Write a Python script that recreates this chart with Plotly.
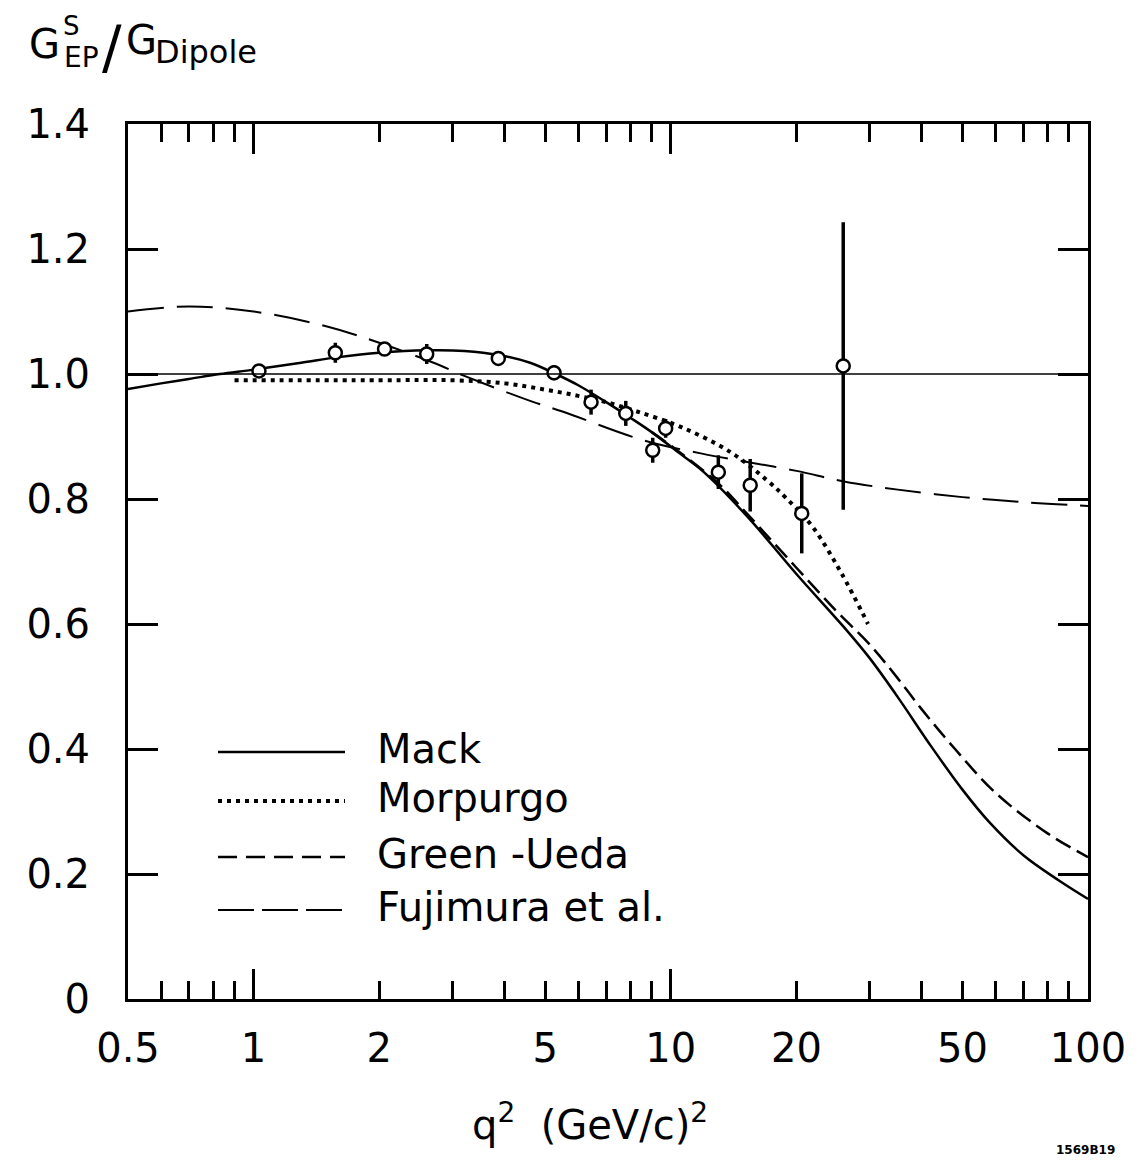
import numpy as np
import plotly.graph_objects as go

# Экспериментальные точки: q^2, G_EP^S / G_Dipole, ошибка
q2_data = [1.03, 1.57, 2.06, 2.6, 3.86, 5.25, 6.44, 7.8, 9.05, 9.72, 13.0, 15.5, 20.6, 25.9]
g_data = [1.005, 1.034, 1.04, 1.032, 1.025, 1.002, 0.955, 0.937, 0.878, 0.913, 0.843, 0.822, 0.777, 1.013]
g_err = [0.006, 0.016, 0.01, 0.016, 0.008, 0.012, 0.02, 0.02, 0.02, 0.015, 0.027, 0.042, 0.064, 0.23]

# Теоретические кривые
mack_q2 = [0.5, 0.6, 0.7, 0.83, 1.0, 1.3, 1.6, 2.0, 2.6, 3.2, 3.9, 4.6, 5.3, 6.0, 7.0, 8.0,
           9.0, 10.5, 12.0, 15.3, 20.0, 26.0, 30.0, 35.0, 42.0, 50.0, 58.0, 70.0, 85.0, 100.0]
mack_g = [0.976, 0.985, 0.992, 1.0, 1.007, 1.018, 1.027, 1.034, 1.038, 1.037, 1.03, 1.018, 1.0,
          0.982, 0.955, 0.93, 0.907, 0.873, 0.843, 0.771, 0.68, 0.595, 0.545, 0.483, 0.405,
          0.335, 0.283, 0.23, 0.19, 0.16]

morpurgo_q2 = [0.9, 2.0, 3.0, 4.0, 5.0, 6.0, 7.0, 8.3, 10.6, 13.9, 17.0, 19.0, 21.9, 25.7, 29.7]
morpurgo_g = [0.99, 0.99, 0.99, 0.985, 0.975, 0.965, 0.955, 0.94, 0.915, 0.875, 0.83, 0.80,
              0.755, 0.68, 0.60]

green_ueda_q2 = [9.0, 10.5, 13.0, 15.3, 20.0, 25.0, 30.0, 35.0, 40.0, 48.0, 60.0, 80.0, 100.0]
green_ueda_g = [0.907, 0.875, 0.825, 0.775, 0.69, 0.62, 0.567, 0.513, 0.463, 0.40, 0.33, 0.265, 0.227]

fujimura_q2 = [0.5, 0.7, 1.0, 1.5, 2.0, 2.7, 3.2, 4.6, 5.5, 8.6, 11.8, 15.0, 20.0, 26.0, 35.0,
               50.0, 70.0, 100.0]
fujimura_g = [1.10, 1.108, 1.10, 1.076, 1.05, 1.018, 0.997, 0.957, 0.94, 0.894, 0.873, 0.86,
              0.845, 0.828, 0.815, 0.803, 0.795, 0.789]

ref_q2 = [0.5, 100.0]
ref_g = [1.0, 1.0]

x_ticks = [0.5, 0.6, 0.7, 0.8, 0.9, 1, 2, 3, 4, 5, 6, 7, 8, 9, 10,
           20, 30, 40, 50, 60, 70, 80, 90, 100]
x_labels = {0.5: "0.5", 1: "1", 2: "2", 5: "5", 10: "10", 20: "20", 50: "50", 100: "100"}
y_ticks = [0, 0.2, 0.4, 0.6, 0.8, 1.0, 1.2, 1.4]
y_labels = ["0", "0.2", "0.4", "0.6", "0.8", "1.0", "1.2", "1.4"]

FONT = "DejaVu Sans"
W, H = 1137, 1160
L, R, T, B = 120, 57, 116, 169
PAGE_OFF = 8  # отступ body страницы


def px(x, y):
    """Пиксели снимка -> координаты paper."""
    fx, fy = x - PAGE_OFF, y - PAGE_OFF
    return (fx - L) / (W - L - R), (H - B - fy) / (H - T - B)


fig = go.Figure()

fig.add_trace(go.Scatter(x=ref_q2, y=ref_g, mode="lines", xaxis="x2",
                         line=dict(color="black", width=1.6), showlegend=False))
fig.add_trace(go.Scatter(x=fujimura_q2, y=fujimura_g, mode="lines", line_shape="spline",
                         line=dict(color="black", width=2, dash="36px,13px"), showlegend=False))
fig.add_trace(go.Scatter(x=morpurgo_q2, y=morpurgo_g, mode="lines", line_shape="spline",
                         line=dict(color="black", width=4, dash="4px,5px"), showlegend=False))
fig.add_trace(go.Scatter(x=mack_q2, y=mack_g, mode="lines", line_shape="spline",
                         line=dict(color="black", width=2.5), showlegend=False))
fig.add_trace(go.Scatter(x=green_ueda_q2, y=green_ueda_g, mode="lines", line_shape="spline",
                         line=dict(color="black", width=2.5, dash="17px,7px"), showlegend=False))
fig.add_trace(go.Scatter(
    x=q2_data, y=g_data, mode="markers",
    error_y=dict(type="data", array=g_err, symmetric=True, thickness=3.5, width=0, color="black"),
    marker=dict(symbol="circle", size=13, color="white", line=dict(color="black", width=2.5)),
    showlegend=False))

axis_common = dict(showline=True, linecolor="black", linewidth=3, mirror="ticks",
                   ticks="inside", tickcolor="black", tickwidth=2.5,
                   showgrid=False, zeroline=False)

fig.update_layout(
    width=W, height=H, autosize=False,
    margin=dict(l=L, r=R, t=T, b=B),
    paper_bgcolor="white", plot_bgcolor="white",
    font=dict(family=FONT, color="black"),
    xaxis=dict(type="log", range=[np.log10(0.5), 2], tickmode="array",
               tickvals=x_ticks, ticktext=[x_labels.get(v, "") for v in x_ticks],
               ticklen=18, tickfont=dict(size=40, family=FONT), ticklabelstandoff=12,
               **axis_common),
    xaxis2=dict(type="log", range=[np.log10(0.5), 2], overlaying="x", anchor="y", side="bottom",
                tickmode="array", tickvals=[1, 10], ticklen=30, showticklabels=False,
                **axis_common),
    yaxis=dict(range=[0, 1.4], tickmode="array", tickvals=y_ticks, ticktext=y_labels,
               ticklen=30, tickfont=dict(size=40, family=FONT), ticklabelstandoff=27,
               **axis_common),
)

# Легенда: образцы линий и подписи
legend_rows = [("Mack", 752, None, 2.5), ("Morpurgo", 801, "4px,5px", 4),
               ("Green -Ueda", 857, "19px,9px", 2.5), ("Fujimura et al.", 910, "36px,8px", 2)]
for name, ypix, dash, w in legend_rows:
    x0, yy = px(218, ypix)
    x1, _ = px(345, ypix)
    fig.add_shape(type="line", xref="paper", yref="paper", x0=x0, x1=x1, y0=yy, y1=yy,
                  line=dict(color="black", width=w, dash=dash or "solid"))
    tx, ty = px(375, ypix - 3)
    fig.add_annotation(xref="paper", yref="paper", x=tx, y=ty, text=name, showarrow=False,
                       xanchor="left", yanchor="middle", font=dict(size=40, family=FONT))

# Подпись оси X
ax, ay = px(590, 1122)
fig.add_annotation(xref="paper", yref="paper", x=ax, y=ay, showarrow=False,
                   xanchor="center", yanchor="middle",
                   text="q<sup>2</sup>  (GeV/c)<sup>2</sup>", font=dict(size=40, family=FONT))

# Подпись оси Y: G^S_EP / G_Dipole
y_title_parts = [("G", 44, 44, 40, "center"), ("S", 71, 26, 26, "center"),
                 ("EP", 81, 57, 28, "center"), ("/", 112, 48, 58, "center"),
                 ("G", 141, 40, 40, "center"), ("Dipole", 153, 52, 32, "left")]
for txt, xp, yp, size, anchor in y_title_parts:
    ax, ay = px(xp, yp)
    fig.add_annotation(xref="paper", yref="paper", x=ax, y=ay, text=txt, showarrow=False,
                       xanchor=anchor, yanchor="middle", font=dict(size=size, family=FONT))

ax, ay = px(1085, 1150)
fig.add_annotation(xref="paper", yref="paper", x=ax, y=ay, text="<b>1569B19</b>",
                   showarrow=False, xanchor="center", yanchor="middle",
                   font=dict(size=12, family=FONT))

fig.write_html("out.html")
